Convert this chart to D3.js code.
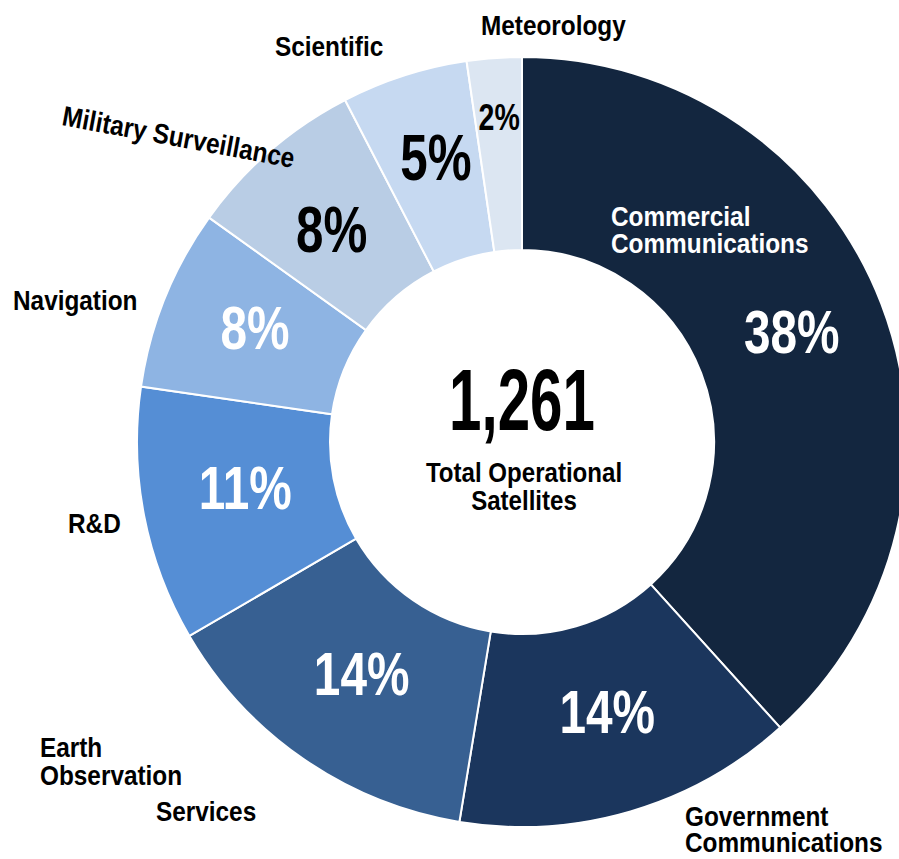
<!DOCTYPE html>
<html>
<head>
<meta charset="utf-8">
<script src="https://cdn.jsdelivr.net/npm/d3@7"></script>
<style>
  html, body { margin: 0; padding: 0; background: #fff; overflow: hidden; }
  text { font-family: "Liberation Sans", Arial, sans-serif; font-weight: bold; }
</style>
</head>
<body>
<div id="chart"></div>
<script>
// data (shares; labels show them rounded)
var categories = ["Commercial Communications", "Government Communications", "Earth Observation Services",
  "R&D", "Navigation", "Military Surveillance", "Scientific", "Meteorology"];
var shares = [38.3, 14.3, 14.0, 10.7, 7.6, 7.5, 5.3, 2.3];
var totalSatellites = 1261;
var totalLabel = ["Total Operational", "Satellites"];

// styles / layout
var colors = ["#13263f", "#1b365d", "#376092", "#558ed5", "#8eb4e3", "#b9cde5", "#c6d9f1", "#dce6f2"];
var pctColors = ["#fff", "#fff", "#fff", "#fff", "#fff", "#000", "#000", "#000"];
var pctSizes = [62, 62, 62, 62, 62, 64, 64, 37];
// nudges from the arc centroid, in px
var pctNudge = [[1, -8], [4, -8], [3, -7], [6, -10], [0, -8], [-2, 5], [2, -11], [-2, -38]];

// category labels: lines, anchor x, first baseline, colour, rotation, line step
var catLabels = [
  { lines: ["Commercial", "Communications"], x: 611, y: 226, fill: "#fff", step: 27 },
  { lines: ["Government", "Communications"], x: 685, y: 826, fill: "#000", step: 26 },
  { lines: ["Earth", "Observation"], x: 40, y: 757, fill: "#000", step: 28 },
  { lines: ["Services"], x: 156, y: 821, fill: "#000" },
  { lines: ["R&D"], x: 68, y: 533, fill: "#000" },
  { lines: ["Navigation"], x: 13, y: 310, fill: "#000" },
  { lines: ["Military Surveillance"], x: 61, y: 125, fill: "#000", rotate: 10.5, size: 28 },
  { lines: ["Scientific"], x: 275, y: 56, fill: "#000" },
  { lines: ["Meteorology"], x: 481, y: 35, fill: "#000" }
];

var width = 899, height = 859;
var cx = 522, cy = 442, outerR = 385, innerR = 192;

var svg = d3.select("#chart").append("svg")
  .attr("width", width)
  .attr("height", height);

var g = svg.append("g")
  .attr("transform", "translate(" + cx + "," + cy + ")");

var pie = d3.pie().sort(null).value(function(d) { return d; });
var arc = d3.arc().innerRadius(innerR).outerRadius(outerR);
var labelArc = d3.arc().innerRadius(288).outerRadius(288);

var arcs = pie(shares);

g.selectAll("path.slice")
  .data(arcs)
  .enter().append("path")
  .attr("class", "slice")
  .attr("d", arc)
  .attr("fill", function(d, i) { return colors[i]; })
  .attr("stroke", "#fff")
  .attr("stroke-width", 2);

// percentage labels
g.selectAll("text.pct")
  .data(arcs)
  .enter().append("text")
  .attr("class", "pct")
  .attr("text-anchor", "middle")
  .attr("transform", function(d, i) {
    var c = labelArc.centroid(d);
    return "translate(" + (c[0] + pctNudge[i][0]) + "," + (c[1] + pctNudge[i][1]) + ") scale(0.77,1)";
  })
  .attr("dy", "0.36em")
  .attr("font-size", function(d, i) { return pctSizes[i]; })
  .attr("fill", function(d, i) { return pctColors[i]; })
  .text(function(d, i) { return Math.round(shares[i]) + "%"; });

// centre total
g.append("text")
  .attr("text-anchor", "middle")
  .attr("transform", "translate(0,-12) scale(0.67,1)")
  .attr("font-size", 87)
  .attr("fill", "#000")
  .text(d3.format(",")(totalSatellites));

g.selectAll("text.total")
  .data(totalLabel)
  .enter().append("text")
  .attr("class", "total")
  .attr("text-anchor", "middle")
  .attr("transform", function(d, i) { return "translate(2," + (40 + i * 28) + ") scale(0.86,1)"; })
  .attr("font-size", 28)
  .attr("fill", "#000")
  .text(function(d) { return d; });

// category labels
catLabels.forEach(function(l) {
  var t = svg.append("text")
    .attr("font-size", l.size || 28)
    .attr("fill", l.fill)
    .attr("transform", "translate(" + l.x + "," + l.y + ")" + (l.rotate ? " rotate(" + l.rotate + ")" : "") + " scale(0.87,1)");
  l.lines.forEach(function(line, i) {
    t.append("tspan").attr("x", 0).attr("y", i * (l.step || 27)).text(line);
  });
});
</script>
</body>
</html>
